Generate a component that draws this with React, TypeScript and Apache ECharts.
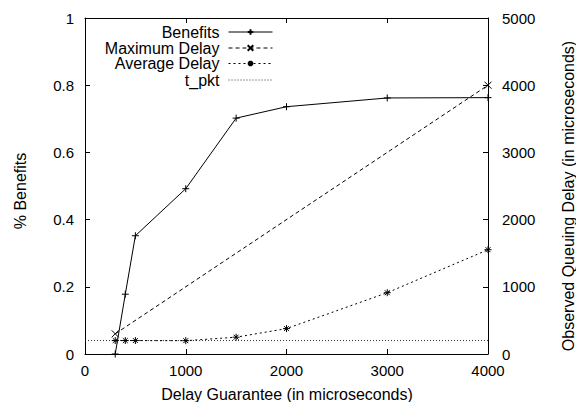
import React, { useEffect, useRef } from "react";
import * as echarts from "echarts";

const xTicks = [0, 1000, 2000, 3000, 4000];
const benefitX = [300, 400, 500, 1000, 1500, 2000, 3000, 4000];
const benefitY = [0, 0.178, 0.352, 0.492, 0.702, 0.736, 0.762, 0.763];
const maxDelayX = [300, 4000];
const maxDelayY = [300, 4000];
const avgDelayX = [300, 400, 500, 1000, 1500, 2000, 3000, 4000];
const avgDelayY = [200, 200, 200, 198, 250, 378, 912, 1552];
const tPktX = [0, 4000];
const tPktY = [200, 200];
const seriesNames = ["Benefits", "Maximum Delay", "Average Delay", "t_pkt"];

const PLUS = "path://M0,5L10,5M5,0L5,10";
const CROSS = "path://M0,0L10,10M0,10L10,0";
const STAR = "path://M0,5L10,5M5,0L5,10M1.5,1.5L8.5,8.5M1.5,8.5L8.5,1.5";
const EMPTY = "path://M0,0L10,0L10,10L0,10Z";

const zip = (a: number[], b: number[]) => a.map((v, i) => [v, b[i]]);

const FONT = "'Liberation Sans', Arial, Helvetica, sans-serif";

export default function App() {
  const ref = useRef<HTMLDivElement>(null);
  useEffect(() => {
    if (!ref.current) return;
    const chart = echarts.init(ref.current, undefined, { renderer: "svg" });
    const symStyle = { color: "transparent", borderColor: "#000", borderWidth: 1 };
    const legendTops = [24, 40, 55.5, 72];
    const plain = (v: number) => String(v);
    const option: any = {
      animation: false,
      backgroundColor: "#fff",
      textStyle: { fontFamily: FONT },
      grid: { left: 85, right: 88, top: 18, bottom: 48 },
      legend: seriesNames.map((n, i) => ({
        data: [n],
        orient: "vertical",
        align: "right",
        right: 303,
        top: legendTops[i],
        padding: 0,
        itemWidth: 44,
        itemHeight: 7,
        selectedMode: false,
        lineStyle: { width: 1 },
        textStyle: { fontSize: 16, color: "#000", fontFamily: FONT, padding: [0, 4, 0, 0] },
      })),
      xAxis: [
        {
          type: "value",
          min: 0,
          max: 4000,
          interval: 1000,
          axisLine: { show: true, lineStyle: { color: "#000", width: 1 } },
          axisTick: { show: true, inside: true, length: 5, lineStyle: { color: "#000" } },
          axisLabel: { fontSize: 15, color: "#000", margin: 9, fontFamily: FONT,
            customValues: xTicks, formatter: plain },
          splitLine: { show: false },
        },
        {
          type: "value",
          position: "top",
          min: 0,
          max: 4000,
          interval: 1000,
          axisLine: { show: true, onZero: false, lineStyle: { color: "#000", width: 1 } },
          axisTick: { show: true, inside: true, length: 5, lineStyle: { color: "#000" } },
          axisLabel: { show: false },
          splitLine: { show: false },
        },
      ],
      yAxis: [
        {
          type: "value",
          min: 0,
          max: 1,
          interval: 0.2,
          position: "left",
          axisLine: { show: true, onZero: false, lineStyle: { color: "#000", width: 1 } },
          axisTick: { show: true, inside: true, length: 5, lineStyle: { color: "#000" } },
          axisLabel: { fontSize: 15, color: "#000", margin: 11, fontFamily: FONT, formatter: plain },
          splitLine: { show: false },
        },
        {
          type: "value",
          min: 0,
          max: 5000,
          interval: 1000,
          position: "right",
          axisLine: { show: true, onZero: false, lineStyle: { color: "#000", width: 1 } },
          axisTick: { show: true, inside: true, length: 5, lineStyle: { color: "#000" } },
          axisLabel: { fontSize: 15, color: "#000", margin: 14, fontFamily: FONT, formatter: plain },
          splitLine: { show: false },
        },
      ],
      series: [
        {
          name: "t_pkt",
          type: "line",
          yAxisIndex: 1,
          data: zip(tPktX, tPktY),
          symbol: EMPTY,
          showSymbol: false,
          lineStyle: { color: "#333", width: 1, type: [1, 2] },
          itemStyle: { color: "rgba(0,0,0,0)", borderColor: "rgba(0,0,0,0)", borderWidth: 0 },
          z: 1,
        },
        {
          name: "Benefits",
          type: "line",
          yAxisIndex: 0,
          data: zip(benefitX, benefitY),
          symbol: PLUS,
          symbolSize: 7,
          lineStyle: { color: "#000", width: 1 },
          itemStyle: symStyle,
          z: 3,
        },
        {
          name: "Maximum Delay",
          type: "line",
          yAxisIndex: 1,
          data: zip(maxDelayX, maxDelayY),
          symbol: CROSS,
          symbolSize: 7,
          lineStyle: { color: "#000", width: 1, type: [4, 3] },
          itemStyle: symStyle,
          z: 2,
        },
        {
          name: "Average Delay",
          type: "line",
          yAxisIndex: 1,
          data: zip(avgDelayX, avgDelayY),
          symbol: STAR,
          symbolSize: 7,
          lineStyle: { color: "#000", width: 1, type: [2, 3] },
          itemStyle: symStyle,
          z: 2,
        },
      ],
      graphic: [
        {
          type: "text",
          x: 20,
          y: 191,
          rotation: Math.PI / 2,
          style: {
            text: "% Benefits",
            fontSize: 16,
            fontFamily: FONT,
            fill: "#000",
            align: "center",
            verticalAlign: "middle",
          },
        },
        {
          type: "text",
          x: 568,
          y: 196,
          rotation: Math.PI / 2,
          style: {
            text: "Observed Queuing Delay (in microseconds)",
            fontSize: 16,
            fontFamily: FONT,
            fill: "#000",
            align: "center",
            verticalAlign: "middle",
          },
        },
        {
          type: "text",
          x: 287,
          y: 394,
          style: {
            text: "Delay Guarantee (in microseconds)",
            fontSize: 16,
            fontFamily: FONT,
            fill: "#000",
            align: "center",
            verticalAlign: "middle",
          },
        },
      ],
    };
    chart.setOption(option);
    return () => chart.dispose();
  }, []);
  return <div ref={ref} style={{ width: 576, height: 402, position: "absolute", left: 0, top: 0 }} />;
}
